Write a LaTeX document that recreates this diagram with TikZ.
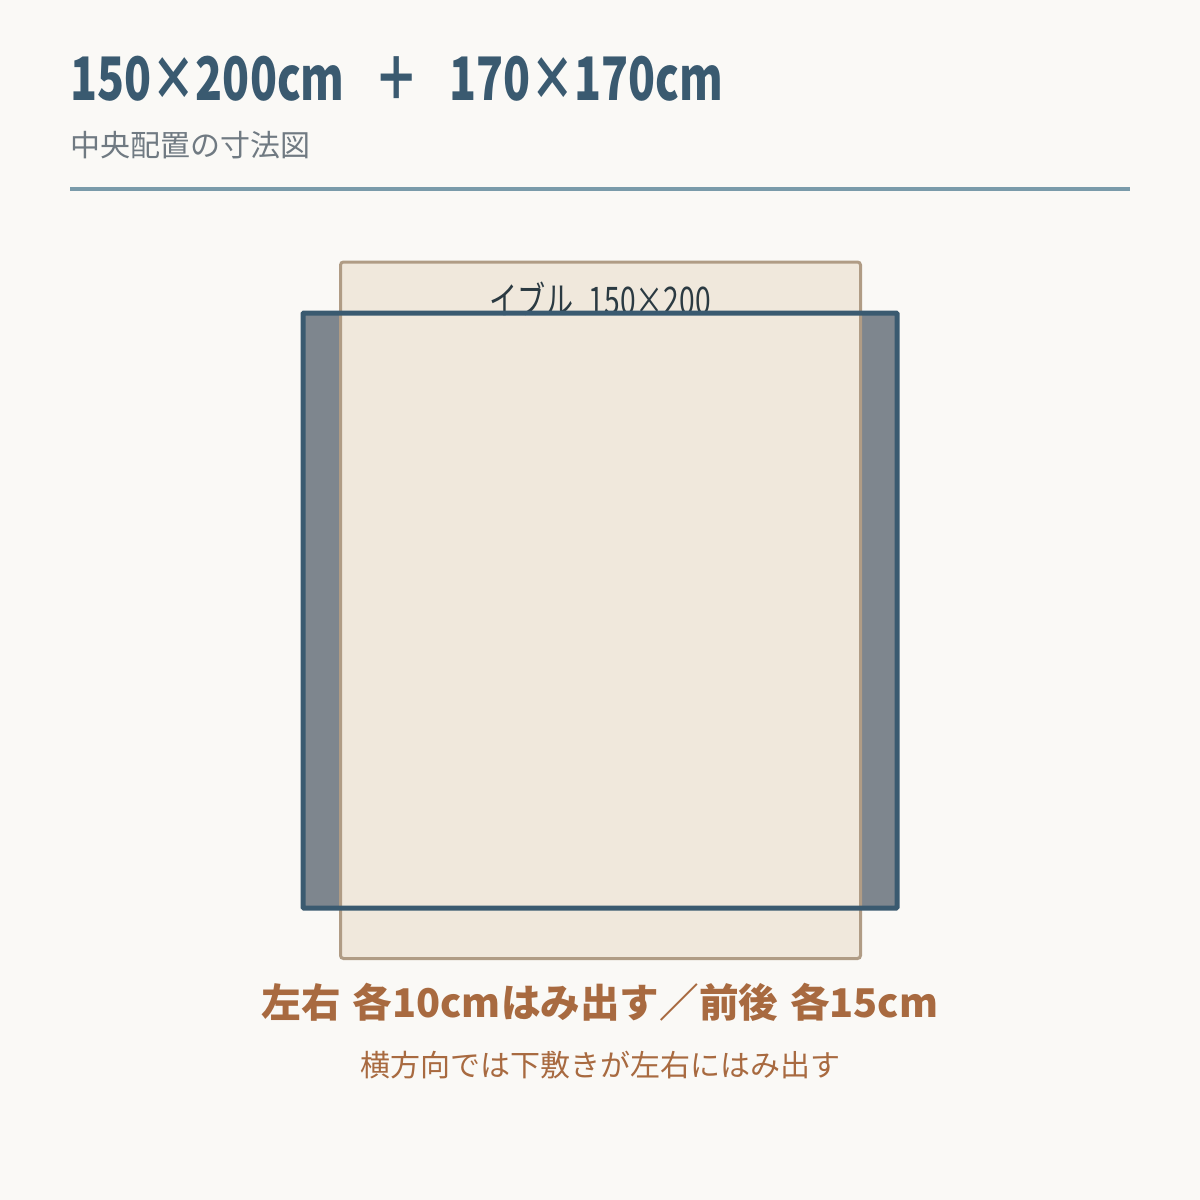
\documentclass[tikz,border=0pt]{standalone}
\usepackage{fontspec}
\setmainfont{Noto Sans CJK JP}
\newfontfamily\narrowfont[FakeStretch=0.74]{Noto Sans CJK JP}
\usetikzlibrary{positioning}
\definecolor{paper}{HTML}{FAF9F6}
\definecolor{slateblue}{HTML}{3A5A70}
\definecolor{rulerblue}{HTML}{7A9BAA}
\definecolor{subgrey}{HTML}{707A82}
\definecolor{rugfill}{HTML}{F0E8DC}
\definecolor{rugline}{HTML}{B09C85}
\definecolor{padgrey}{HTML}{7E868E}
\definecolor{labelink}{HTML}{2B3A42}
\definecolor{rust}{HTML}{A86A40}
\tikzset{
    txt/.style={inner sep=0pt},
    rug/.style={fill=rugfill, draw=rugline, line width=1.5pt, rounded corners=1.5pt},
    padline/.style={draw=slateblue, line width=2.5pt, rounded corners=0.5pt}
}

\begin{document}
\begin{tikzpicture}[x=0.5pt,y=-0.5pt]
    % Background
    \fill[paper] (0,0) rectangle (1200,1200);

    % Heading
    \node[txt, anchor=west, text=slateblue, font=\narrowfont\bfseries\fontsize{30}{36}\selectfont] (title) at (70,79) {150×200cm\hspace{0.5em}＋\hspace{0.5em}170×170cm};
    \node[txt, anchor=west, text=subgrey, font=\fontsize{15}{18}\selectfont] (subtitle) at (70,145) {中央配置の寸法図};
    \draw[rulerblue, line width=2pt] (70,189) -- (1130,189);

    % Underlay 170x170 (visible part)
    \fill[padgrey] (303,313) rectangle (897,908);

    % Rug 150x200
    \draw[rug] (340.5,262) rectangle (860.5,958.5);
    \node[txt, text=labelink, font=\narrowfont\fontsize{19}{23}\selectfont] (ruglabel) at (600,299) {イブル\hspace{0.4em}150×200};

    % Underlay outline
    \draw[padline] (303,313) rectangle (897,908);

    % Notes
    \node[txt, text=rust, font=\bfseries\fontsize{19.8}{24}\selectfont] (note) at (600,1002) {左右\hspace{0.3em}各10cmはみ出す／前後\hspace{0.3em}各15cm};
    \node[txt, text=rust, font=\fontsize{15}{18}\selectfont] (subnote) at (600,1065) {横方向では下敷きが左右にはみ出す};
\end{tikzpicture}
\end{document}
